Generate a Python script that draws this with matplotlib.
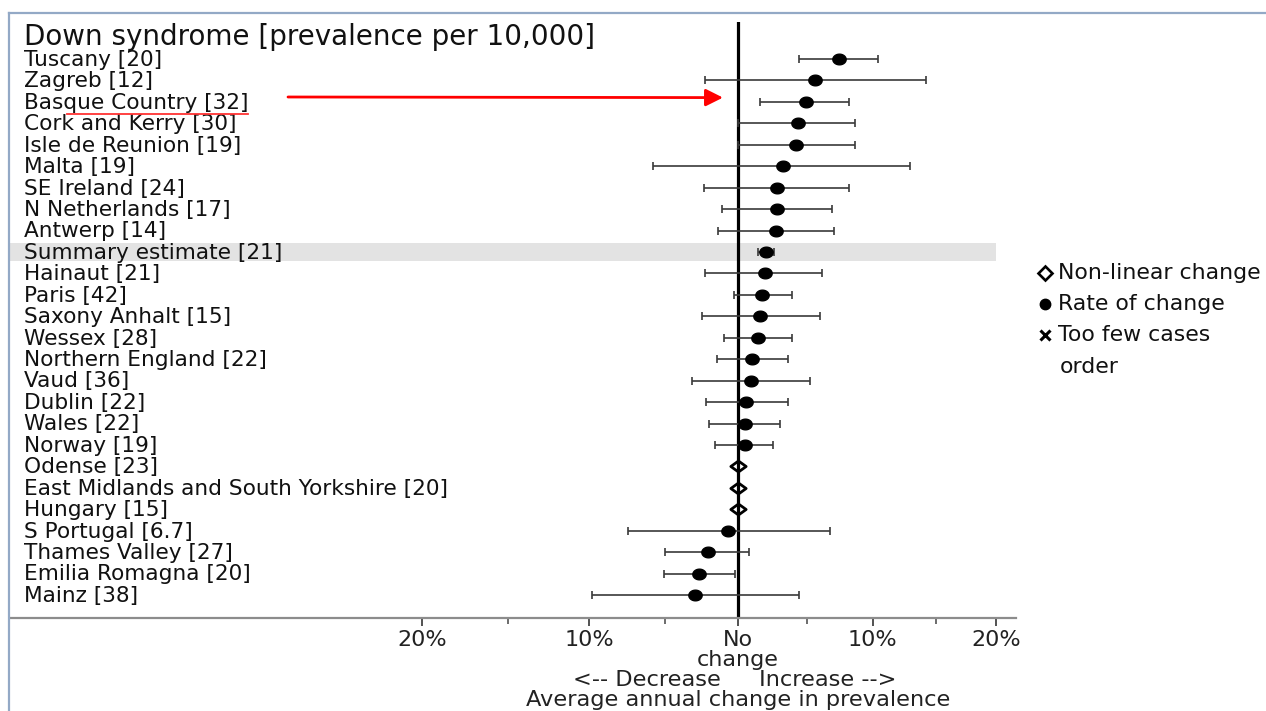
import numpy as np
import matplotlib
matplotlib.use("Agg")
import matplotlib.pyplot as plt
import matplotlib.transforms as mtransforms
from matplotlib.patches import Rectangle
from matplotlib.lines import Line2D
from matplotlib.path import Path

plt.rcParams['font.family'] = ['DejaVu Sans']

# ---------------- data ----------------
title = "Down syndrome [prevalence per 10,000]"
regions = ["Tuscany", "Zagreb", "Basque Country", "Cork and Kerry", "Isle de Reunion",
           "Malta", "SE Ireland", "N Netherlands", "Antwerp", "Summary estimate",
           "Hainaut", "Paris", "Saxony Anhalt", "Wessex", "Northern England", "Vaud",
           "Dublin", "Wales", "Norway", "Odense", "East Midlands and South Yorkshire",
           "Hungary", "S Portugal", "Thames Valley", "Emilia Romagna", "Mainz"]
prevalence = ["20", "12", "32", "30", "19", "19", "24", "17", "14", "21", "21", "42", "15",
              "28", "22", "36", "22", "22", "19", "23", "20", "15", "6.7", "27", "20", "38"]
# average annual change in prevalence (%)
change_pct = [7.4, 5.6, 4.9, 4.3, 4.2, 3.2, 2.8, 2.8, 2.7, 2.0, 1.9, 1.7, 1.6, 1.4, 1.0,
              0.9, 0.6, 0.5, 0.5, 0.0, 0.0, 0.0, -0.7, -2.1, -2.7, -3.0]
ci_low_pct = [4.4, -2.3, 1.6, 0.0, 0.0, -5.8, -2.4, -1.1, -1.4, 1.4, -2.3, -0.3, -2.5, -1.0,
              -1.5, -3.2, -2.2, -2.0, -1.6, np.nan, np.nan, np.nan, -7.5, -5.0, -5.1, -9.8]
ci_high_pct = [10.4, 14.2, 8.2, 8.6, 8.6, 12.9, 8.2, 6.9, 7.0, 2.6, 6.1, 3.9, 6.0, 3.9,
               3.6, 5.2, 3.6, 3.0, 2.5, np.nan, np.nan, np.nan, 6.7, 0.8, -0.2, 4.4]
kind = ["rate"] * 19 + ["nonlinear"] * 3 + ["rate"] * 4
summary_name = "Summary estimate"

tick_pcts = [-20, -10, 0, 10, 20]
tick_labels = ["20%", "10%", "No\nchange", "10%", "20%"]
minor_pcts = [-15, -5, 5, 15]
legend_labels = ["Non-linear change", "Rate of change", "Too few cases", "order"]

# ---------------- figure ----------------
W, H = 1266, 711
fig = plt.figure(figsize=(W / 100, H / 100), dpi=100)
ax = fig.add_axes([10 / W, 1 - 618 / H, (1016 - 10) / W, (618 - 22) / H])

def to_x(p):
    return np.log1p(np.asarray(p, dtype=float) / 100.0)

n = len(regions)
y = np.arange(n)
x = to_x(change_pct)
lo = to_x(ci_low_pct)
hi = to_x(ci_high_pct)
is_rate = np.array([k == "rate" for k in kind])

xmin, xmax = -0.5145, 0.1965
ax.set_xlim(xmin, xmax)
ax.set_ylim(26.07, -1.726)

# summary band
si = regions.index(summary_name)
ax.add_patch(Rectangle((xmin, si - 0.4), to_x(20) - xmin, 0.8, facecolor="#e3e3e3",
                       edgecolor="none", zorder=0))

# no-change line
ax.axvline(0, color="black", lw=2.3, zorder=2)

# error bars
ax.errorbar(x[is_rate], y[is_rate], xerr=[x[is_rate] - lo[is_rate], hi[is_rate] - x[is_rate]],
            fmt="none", ecolor="#3a3a3a", elinewidth=1.2, capsize=3, capthick=1.2, zorder=3)

# markers
ell = np.linspace(0, 2 * np.pi, 40)
ellipse = Path(np.column_stack([np.cos(ell), 0.8 * np.sin(ell)]), closed=True)
ax.plot(x[is_rate], y[is_rate], linestyle="none", marker=ellipse, ms=9.6, color="black",
        zorder=4)
diamond = Path([(-1, 0), (0, 0.72), (1, 0), (0, -0.72), (-1, 0)], closed=True)
ax.plot(x[~is_rate], y[~is_rate], linestyle="none", marker=diamond, ms=11,
        markerfacecolor="none", markeredgecolor="black", markeredgewidth=2.0, zorder=4)

# labels
lab_tr = mtransforms.blended_transform_factory(ax.transAxes, ax.transData)
for i, (r, p) in enumerate(zip(regions, prevalence)):
    ax.text(0.0139, i + 0.04, f"{r} [{p}]", transform=lab_tr, ha="left", va="center",
            fontsize=15.6, color="#111111")
ax.text(0.0139, -1.02, title, transform=lab_tr, ha="left", va="center",
        fontsize=20, color="#111111")

# axes styling
for s in ["top", "right", "left"]:
    ax.spines[s].set_visible(False)
ax.spines["bottom"].set_color("#8c8c8c")
ax.spines["bottom"].set_linewidth(1.6)
ax.set_yticks([])
ax.set_xticks(to_x(tick_pcts))
ax.set_xticklabels(tick_labels, fontsize=16, color="#222222", linespacing=0.95)
ax.set_xticks(to_x(minor_pcts), minor=True)
ax.tick_params(axis="x", which="major", length=6, width=1.3, color="#444444", pad=3)
ax.tick_params(axis="x", which="minor", length=4, width=1.1, color="#444444")

xy_tr = mtransforms.blended_transform_factory(ax.transData, fig.transFigure)
ax.text(-0.012, 1 - 680 / H, "<-- Decrease", transform=xy_tr, ha="right", va="center",
        fontsize=16.2, color="#222222")
ax.text(0.015, 1 - 680 / H, "Increase -->", transform=xy_tr, ha="left", va="center",
        fontsize=16.2, color="#222222")
ax.text(0.0, 1 - 700 / H, "Average annual change in prevalence", transform=xy_tr,
        ha="center", va="center", fontsize=16.2, color="#222222")

# legend (manual)
leg_x_marker = 1045 / W
leg_x_text = 1058 / W
leg_y = [273, 304, 335, 367]
fig.add_artist(Line2D([leg_x_marker], [1 - leg_y[0] / H], marker="D", ms=7,
                      markerfacecolor="white", markeredgecolor="black",
                      markeredgewidth=1.9, linestyle="none"))
fig.add_artist(Line2D([leg_x_marker], [1 - leg_y[1] / H], marker="o", ms=7.5,
                      color="black", linestyle="none"))
fig.add_artist(Line2D([leg_x_marker], [1 - leg_y[2] / H], marker="x", ms=7.5,
                      markeredgewidth=2.2, color="black", linestyle="none"))
for lbl, yy in zip(legend_labels[:3], leg_y[:3]):
    fig.text(leg_x_text, 1 - yy / H, lbl, ha="left", va="center", fontsize=15.8,
             color="#111111")
fig.text(1060 / W, 1 - leg_y[3] / H, legend_labels[3], ha="left", va="center",
         fontsize=15.8, color="#111111")

# red arrow and underline
bi = regions.index("Basque Country")
ax.annotate("", xy=(-0.0106, bi - 0.2), xycoords="data",
            xytext=(288 / W, 1 - 97 / H), textcoords="figure fraction",
            arrowprops=dict(arrowstyle="-|>", color="#ff0000", lw=2.0,
                            mutation_scale=26, shrinkA=0, shrinkB=0))
fig.add_artist(Line2D([67 / W, 248 / W], [1 - 114 / H, 1 - 114 / H], color="#ff3333",
                      lw=1.3))

# frame
fig.add_artist(Line2D([8.5 / W, 1], [1 - 12.5 / H, 1 - 12.5 / H], color="#93a9c6", lw=1.6))
fig.add_artist(Line2D([8.5 / W, 8.5 / W], [0, 1 - 12.5 / H], color="#93a9c6", lw=1.6))

fig.savefig("out.png", dpi=100)
